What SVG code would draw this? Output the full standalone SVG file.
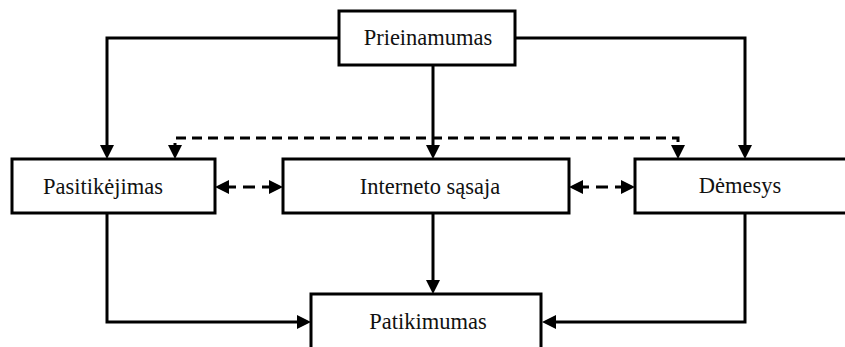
<svg xmlns="http://www.w3.org/2000/svg" width="845" height="347" viewBox="0 0 845 347">
  <defs>
    <marker id="arrow" markerUnits="userSpaceOnUse" markerWidth="14" markerHeight="14" viewBox="0 0 14 14" refX="8" refY="7" orient="auto-start-reverse">
      <path d="M0,0 L14,7 L0,14 z" fill="#000"/>
    </marker>
  </defs>
  <style>
    .box { fill: #fff; stroke: #000; stroke-width: 3; }
    .label { font-family: "Liberation Serif", "Times New Roman", serif; font-size: 22.5px; fill: #111; text-anchor: middle; }
    .link { fill: none; stroke: #000; stroke-width: 3; }
    .dashed { stroke-dasharray: 10 6; }
  </style>
  <rect width="845" height="347" fill="#fff"/>

  <g id="connectors">
    <!-- Prieinamumas to the three middle nodes -->
    <path class="link" d="M339,38 H107 V153" marker-end="url(#arrow)"/>
    <path class="link" d="M515,38 H745 V153" marker-end="url(#arrow)"/>
    <path class="link" d="M433,65 V153" marker-end="url(#arrow)"/>
    <!-- dashed link Pasitikėjimas ↔ Dėmesys -->
    <path class="link dashed" d="M175,153 V138 H678 V153" marker-start="url(#arrow)" marker-end="url(#arrow)"/>
    <!-- dashed links between neighbouring middle nodes -->
    <path class="link" style="stroke-dasharray: 15 7 12 7 15" d="M221,187 H277" marker-start="url(#arrow)" marker-end="url(#arrow)"/>
    <path class="link" style="stroke-dasharray: 14 7 12 7 14" d="M575,187 H629" marker-start="url(#arrow)" marker-end="url(#arrow)"/>
    <!-- middle nodes to Patikimumas -->
    <path class="link" d="M433,213 V288" marker-end="url(#arrow)"/>
    <path class="link" d="M107,213 V322 H305" marker-end="url(#arrow)"/>
    <path class="link" d="M745,213 V322 H548" marker-end="url(#arrow)"/>
  </g>

  <g id="prieinamumas">
    <rect class="box" x="339" y="11" width="176" height="54"/>
    <text class="label" x="428" y="45">Prieinamumas</text>
  </g>
  <g id="pasitikejimas">
    <rect class="box" x="12" y="159" width="203" height="54"/>
    <text class="label" x="103" y="194">Pasitikėjimas</text>
  </g>
  <g id="interneto-sasaja">
    <rect class="box" x="283" y="159" width="286" height="54"/>
    <text class="label" x="430" y="194">Interneto sąsaja</text>
  </g>
  <g id="demesys">
    <rect class="box" x="635" y="159" width="230" height="54"/>
    <text class="label" x="740" y="193">Dėmesys</text>
  </g>
  <g id="patikimumas">
    <rect class="box" x="311" y="294" width="230" height="70"/>
    <text class="label" x="428" y="329">Patikimumas</text>
  </g>
</svg>
